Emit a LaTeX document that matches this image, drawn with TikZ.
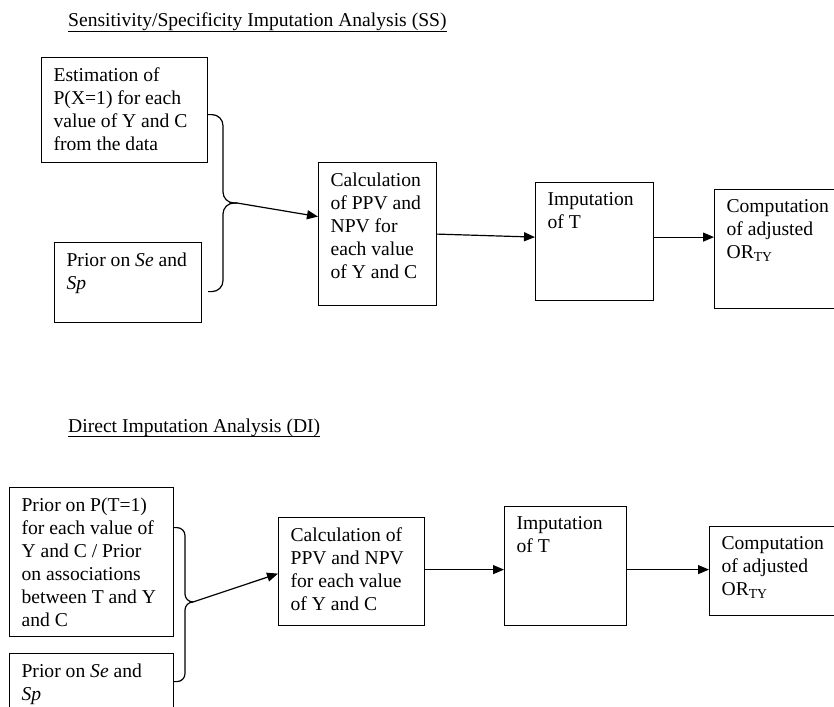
\documentclass[tikz,border=0pt]{standalone}
\usepackage{fontspec}
\setmainfont{Liberation Serif}
\usetikzlibrary{arrows.meta}

\tikzset{
  stage/.style 2 args={draw, line width=1.2pt, anchor=north west,
    inner xsep=12pt, inner ysep=10pt,
    font=\fontsize{19.6}{23}\selectfont,
    execute at begin node={\begin{minipage}[t][#2][t]{#1}\raggedright},
    execute at end node={\end{minipage}}},
  heading/.style={anchor=base west, inner sep=0pt, font=\fontsize{19.6}{23}\selectfont},
  rule/.style={line width=1.2pt},
  flow/.style={-{Triangle[length=11pt,width=9pt]}, line width=1.2pt},
  brace/.style={line width=1.2pt, rounded corners=#1},
  brace/.default=11pt,
}

\begin{document}
\begin{tikzpicture}[x=1pt, y=-1pt]
\useasboundingbox (0,0) rectangle (834,706);
\clip (0,0) rectangle (834,706);

% SS analysis
\node[heading] (ss) at (68,27) {Sensitivity/Specificity Imputation Analysis (SS)};
\draw[rule] ([yshift=-4.5pt]ss.base west) -- ([yshift=-4.5pt]ss.base east);

\node[stage={142pt}{85pt}] (estim1) at (41,57) {Estimation of\\ P(X=1) for each\\ value of Y and C\\ from the data};
\node[stage={123pt}{60pt}] (prior1) at (54,242) {Prior on \textit{Se} and\\ \textit{Sp}};
\node[stage={94pt}{123pt}] (calc1) at (318,162) {Calculation\\ of PPV and\\ NPV for\\ each value\\ of Y and C};
\node[stage={94pt}{98pt}] (imput1) at (535,182) {Imputation\\ of T};
\node[stage={116pt}{99pt}] (comp1) at (714,189) {Computation\\ of adjusted\\ OR\textsubscript{TY}};

\coordinate (join1) at (237,203);
\coordinate (spine1) at (223,203);
\draw[brace] ([yshift=-4.5pt]estim1.east) -| (spine1) -- (join1);
\draw[brace] (join1) -- (spine1) |- ([xshift=6pt,yshift=-9pt]prior1.east);
\draw[flow] (join1) -- ([yshift=17.5pt]calc1.west);

\path (calc1.east -| imput1.west) ++(0,3) coordinate (mid1);
\draw[flow] (calc1.east) -- (mid1);
\draw[flow] (imput1.east |- mid1) -- (comp1.west |- mid1);

% DI analysis
\node[heading] (di) at (68,432) {Direct Imputation Analysis (DI)};
\draw[rule] ([yshift=-4.5pt]di.base west) -- ([yshift=-4.5pt]di.base east);

\node[stage={140pt}{129pt}] (estim2) at (9,487) {Prior on P(T=1)\\ for each value of\\ Y and C / Prior\\ on associations\\ between T and Y\\ and C};
\node[stage={140pt}{60pt}] (prior2) at (9,653) {Prior on \textit{Se} and\\ \textit{Sp}};
\node[stage={122pt}{88pt}] (calc2) at (278,517) {Calculation of\\ PPV and NPV\\ for each value\\ of Y and C};
\node[stage={98pt}{99pt}] (imput2) at (504,506) {Imputation\\ of T};
\node[stage={116pt}{69pt}] (comp2) at (709,526) {Computation\\ of adjusted\\ OR\textsubscript{TY}};

\coordinate (join2) at (193,602);
\coordinate (spine2) at (185,602);
\draw[brace=8pt] ([yshift=34.5pt]estim2.east) -| (spine2) -- (join2);
\draw[brace=8pt] (join2) -- (spine2) |- ([yshift=12pt]prior2.east);
\draw[flow] (join2) -- ([yshift=-2pt]calc2.west);

\path (calc2.east) ++(0,-2) coordinate (mid2);
\draw[flow] (mid2) -- (imput2.west |- mid2);
\draw[flow] (imput2.east |- mid2) -- (comp2.west |- mid2);
\end{tikzpicture}
\end{document}
